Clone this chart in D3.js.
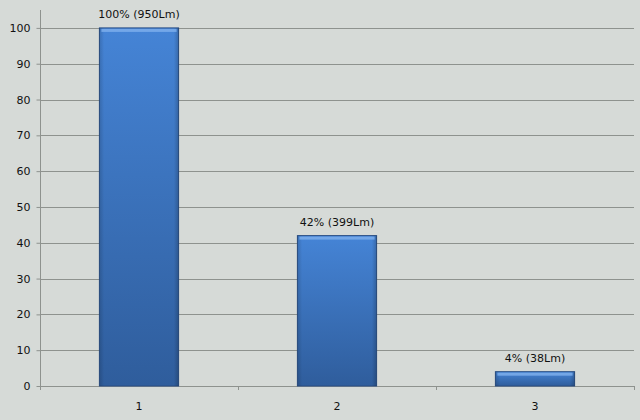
<!DOCTYPE html>
<html>
<head>
<meta charset="utf-8">
<script src="https://cdn.jsdelivr.net/npm/d3@7"></script>
<style>
  body { margin: 0; background: #d6dad7; }
  text { font-family: "DejaVu Sans", Verdana, sans-serif; font-size: 11px; fill: #111; }
</style>
</head>
<body>
<script>
// data
var categories = ["1", "2", "3"];
var values = [100, 42, 4];
var barLabels = ["100% (950Lm)", "42% (399Lm)", "4% (38Lm)"];
var yTicks = [0, 10, 20, 30, 40, 50, 60, 70, 80, 90, 100];

var width = 640, height = 420;
var margin = {top: 10, right: 6, bottom: 34, left: 40};

var svg = d3.select("body").append("svg").attr("width", width).attr("height", height);

svg.append("rect").attr("width", width).attr("height", height).attr("fill", "#d6dad7");

var x = d3.scaleBand()
  .domain(categories)
  .range([margin.left, width - margin.right])
  .paddingInner(0.6)
  .paddingOuter(0.3);

var y = d3.scaleLinear()
  .domain([0, 105])
  .range([height - margin.bottom, margin.top]);

// gradient for the bars
var defs = svg.append("defs");
var grad = defs.append("linearGradient").attr("id", "barfill")
  .attr("x1", 0).attr("y1", 0).attr("x2", 0).attr("y2", 1);
grad.append("stop").attr("offset", "0%").attr("stop-color", "#4584d6");
grad.append("stop").attr("offset", "100%").attr("stop-color", "#2f5d9c");

var side = defs.append("linearGradient").attr("id", "sidefill")
  .attr("x1", 0).attr("y1", 0).attr("x2", 1).attr("y2", 0);
side.append("stop").attr("offset", "0%").attr("stop-color", "#000").attr("stop-opacity", 0.15);
side.append("stop").attr("offset", "6%").attr("stop-color", "#000").attr("stop-opacity", 0);
side.append("stop").attr("offset", "94%").attr("stop-color", "#000").attr("stop-opacity", 0);
side.append("stop").attr("offset", "100%").attr("stop-color", "#000").attr("stop-opacity", 0.2);

// gridlines
svg.append("g")
  .selectAll("line")
  .data(yTicks.filter(function(d) { return d > 0; }))
  .join("line")
  .attr("x1", margin.left)
  .attr("x2", width - margin.right)
  .attr("y1", function(d) { return Math.round(y(d)) + 0.5; })
  .attr("y2", function(d) { return Math.round(y(d)) + 0.5; })
  .attr("stroke", "#8e928e")
  .attr("stroke-width", 1);

// y axis
var yAxis = svg.append("g")
  .attr("transform", "translate(" + (margin.left + 0.5) + ",0)")
  .call(d3.axisLeft(y).tickValues(yTicks).tickSize(4).tickPadding(6));
yAxis.select(".domain").attr("stroke", "#8e928e").attr("d", "M0," + margin.top + "V" + (height - margin.bottom));
yAxis.selectAll(".tick line").attr("stroke", "#8e928e");
yAxis.selectAll(".tick text").style("font-size", "11px").attr("fill", "#111");

// x axis
var xAxis = svg.append("g")
  .attr("transform", "translate(0," + (Math.round(y(0)) + 0.5) + ")")
  .call(d3.axisBottom(x).tickSize(0).tickPadding(16));
xAxis.select(".domain").attr("stroke", "#8e928e")
  .attr("d", "M" + margin.left + ",0H" + (width - margin.right));
xAxis.selectAll(".tick text").style("font-size", "11px").attr("fill", "#111");

// small ticks between categories
var bounds = [margin.left].concat(categories.map(function(c) { return x(c) - x.step() * 0.3 + x.step(); }));
svg.append("g")
  .selectAll("line")
  .data(bounds)
  .join("line")
  .attr("x1", function(d) { return Math.round(d) + 0.5; })
  .attr("x2", function(d) { return Math.round(d) + 0.5; })
  .attr("y1", y(0))
  .attr("y2", y(0) + 4)
  .attr("stroke", "#8e928e");

// bars
var bars = svg.append("g")
  .selectAll("g")
  .data(values)
  .join("g");

bars.append("rect")
  .attr("x", function(d, i) { return x(categories[i]); })
  .attr("y", function(d) { return y(d); })
  .attr("width", x.bandwidth())
  .attr("height", function(d) { return y(0) - y(d); })
  .attr("fill", "url(#barfill)")
  .attr("stroke", "#2a4f85")
  .attr("stroke-width", 1);

bars.append("rect")
  .attr("x", function(d, i) { return x(categories[i]); })
  .attr("y", function(d) { return y(d); })
  .attr("width", x.bandwidth())
  .attr("height", function(d) { return y(0) - y(d); })
  .attr("fill", "url(#sidefill)");

// top bevel highlight
bars.append("rect")
  .attr("x", function(d, i) { return x(categories[i]) + 2; })
  .attr("y", function(d) { return y(d) + 1; })
  .attr("width", x.bandwidth() - 4)
  .attr("height", 3)
  .attr("fill", "#7fb0ec")
  .attr("opacity", 0.8);

// value labels
bars.append("text")
  .attr("x", function(d, i) { return x(categories[i]) + x.bandwidth() / 2; })
  .attr("y", function(d) { return y(d) - 10; })
  .attr("text-anchor", "middle")
  .text(function(d, i) { return barLabels[i]; });
</script>
</body>
</html>
